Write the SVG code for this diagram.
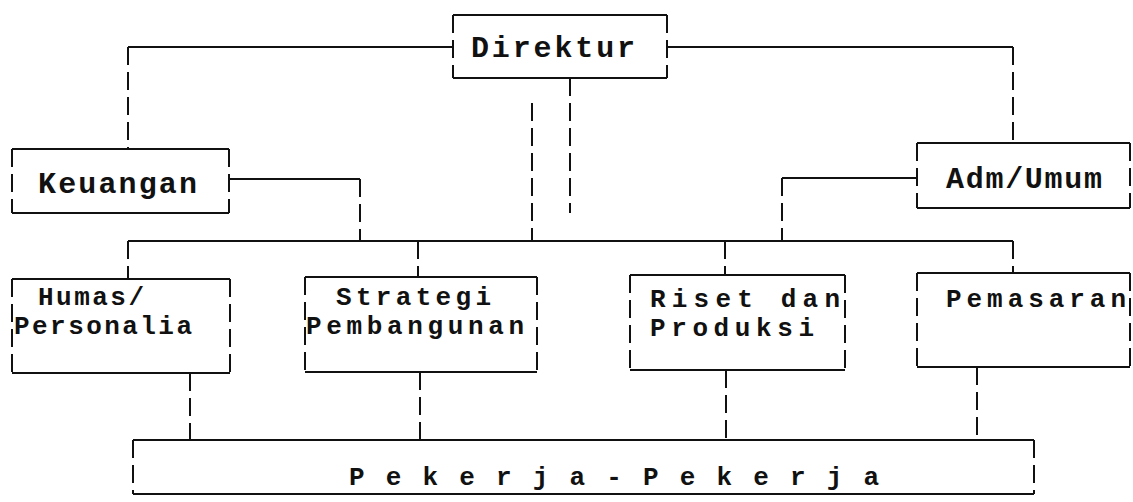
<svg xmlns="http://www.w3.org/2000/svg" width="1133" height="502" viewBox="0 0 1133 502">
<style>
.h{fill:none;stroke:#111;stroke-width:2}
.v{fill:none;stroke:#111;stroke-width:2;stroke-dasharray:18 7}
.t1{font-family:"Liberation Mono","DejaVu Sans Mono",monospace;font-weight:bold;font-size:30px;fill:#111}
.t2{font-family:"Liberation Mono","DejaVu Sans Mono",monospace;font-weight:bold;font-size:26px;fill:#111}
</style>
<rect width="1133" height="502" fill="#fff"/>
<g id="connectors">
<path class="h" d="M453 47H128M667 47H1013M229 179H360M917 178H782M128 241H1013"/>
<path class="v" d="M128 47V149M1013 47V143M532 103V241M570 78V213M360 179V241M782 178V241M128 241V279M418 241V277M725 241V275M1013 241V273M190 373V440M420 372V440M726 370V440M977 367V440"/>
</g>
<g id="direktur">
<path class="h" d="M453 15H667M453 78H667"/>
<path class="v" d="M453 15V78M667 15V78"/>
<text class="t1" x="471" y="57" textLength="164" lengthAdjust="spacing">Direktur</text>
</g>
<g id="keuangan">
<path class="h" d="M12 149H229M12 213H229"/>
<path class="v" d="M12 149V213M229 149V213"/>
<text class="t1" x="38" y="193" textLength="159" lengthAdjust="spacing">Keuangan</text>
</g>
<g id="adm-umum">
<path class="h" d="M917 143H1130M917 208H1130"/>
<path class="v" d="M917 143V208M1130 143V208"/>
<text class="t1" x="946" y="188" textLength="156" lengthAdjust="spacing">Adm/Umum</text>
</g>
<g id="humas">
<path class="h" d="M12 279H230M12 373H230"/>
<path class="v" d="M12 279V373M230 279V373"/>
<text class="t2" x="38" y="305" textLength="106" lengthAdjust="spacing">Humas/</text>
<text class="t2" x="14" y="334" textLength="178" lengthAdjust="spacing">Personalia</text>
</g>
<g id="strategi">
<path class="h" d="M305 277H537M305 372H537"/>
<path class="v" d="M305 277V372M537 277V372"/>
<text class="t2" x="336" y="305" textLength="155" lengthAdjust="spacing">Strategi</text>
<text class="t2" x="306" y="334" textLength="218" lengthAdjust="spacing">Pembangunan</text>
</g>
<g id="riset">
<path class="h" d="M630 275H845M630 370H845"/>
<path class="v" d="M630 275V370M845 275V370"/>
<text class="t2" x="650" y="307" textLength="190" lengthAdjust="spacing">Riset dan</text>
<text class="t2" x="650" y="336" textLength="164" lengthAdjust="spacing">Produksi</text>
</g>
<g id="pemasaran">
<path class="h" d="M917 273H1130M917 367H1130"/>
<path class="v" d="M917 273V367M1130 273V367"/>
<text class="t2" x="946" y="307" textLength="180" lengthAdjust="spacing">Pemasaran</text>
</g>
<g id="pekerja">
<path class="h" d="M133 440H1034M133 494H1034"/>
<path class="v" d="M133 440V494M1034 440V494"/>
<text class="t2" x="349" y="485" textLength="530" lengthAdjust="spacing">P e k e r j a - P e k e r j a</text>
</g>
</svg>
